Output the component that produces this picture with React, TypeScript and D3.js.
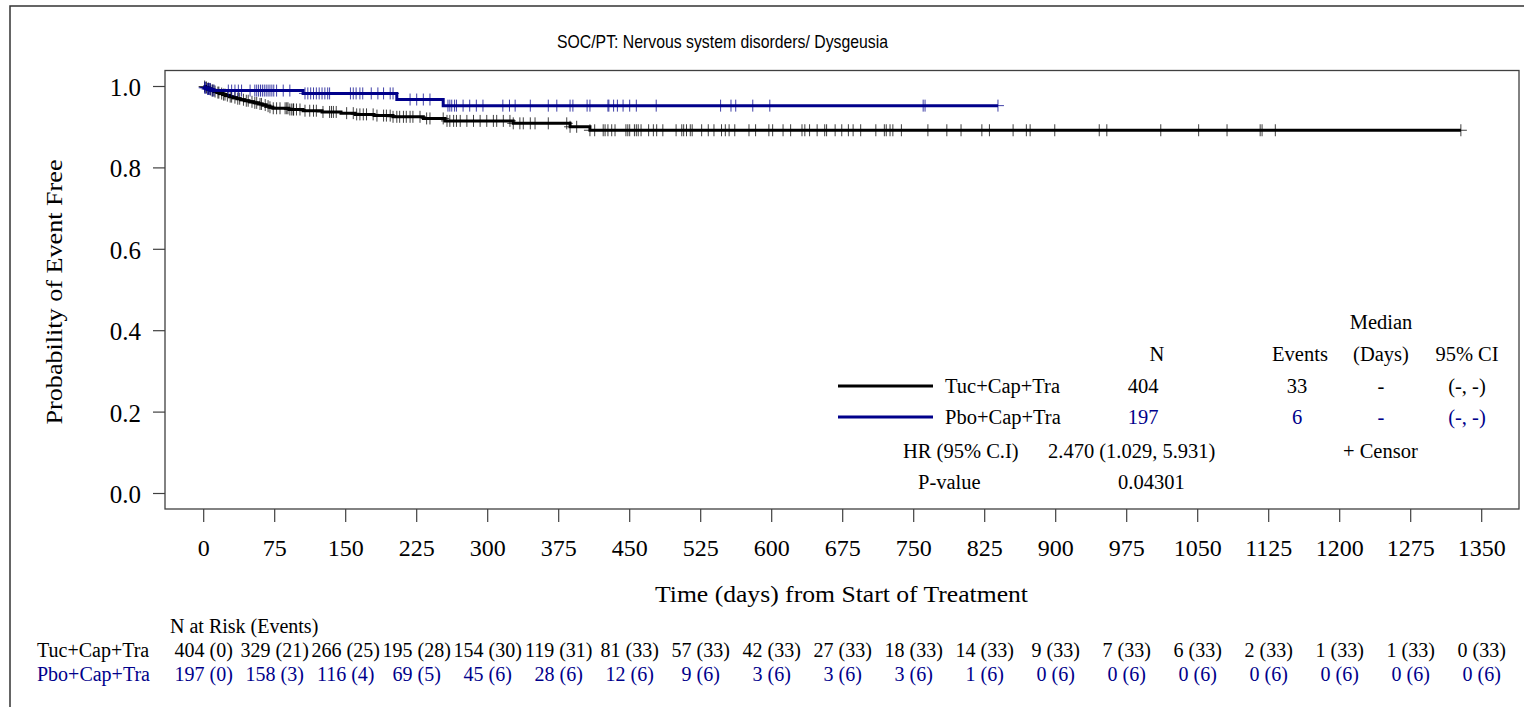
import React from "react";
import * as d3 from "d3";

// ---------- data ----------
const title = "SOC/PT: Nervous system disorders/ Dysgeusia";
const groups = ["Tuc+Cap+Tra", "Pbo+Cap+Tra"];
const groupColors = ["#000000", "#00008B"];

const xTicks = [0, 75, 150, 225, 300, 375, 450, 525, 600, 675, 750, 825, 900, 975, 1050, 1125, 1200, 1275, 1350];
const yTicks = [0.0, 0.2, 0.4, 0.6, 0.8, 1.0];

// Kaplan-Meier steps [day, survival after event]
const tucSteps: [number, number][] = [
  [0, 1.0], [2, 0.9975], [4, 0.995], [6, 0.9926], [8, 0.9901], [11, 0.9876], [14, 0.9851], [17, 0.9826],
  [20, 0.9801], [23, 0.9776], [27, 0.9751], [31, 0.9726], [35, 0.970], [39, 0.9675], [43, 0.965],
  [48, 0.9624], [53, 0.9598], [58, 0.9571], [62, 0.9544], [66, 0.9517], [70, 0.949], [73, 0.9465],
  [90, 0.9435], [105, 0.9405], [125, 0.9375], [145, 0.9345], [160, 0.9315], [180, 0.9285], [200, 0.9255],
  [232, 0.9215], [255, 0.9155], [327, 0.9095], [387, 0.901], [408, 0.8925],
];
const tucEnd = 1328;
const pboSteps: [number, number][] = [
  [0, 1.0], [1, 0.997], [3, 0.994], [8, 0.990], [105, 0.983], [204, 0.968], [253, 0.953],
];
const pboEnd = 839;

const tucCensor = [
  1, 3, 5, 7, 9, 10, 12, 15, 16, 19, 21, 22.5, 25, 28, 29.5, 33, 36, 38, 42, 45, 47, 51, 54, 56, 59.5, 61, 65, 68, 70,
  73.5, 77, 80.6, 86, 87.7, 89, 91, 93, 94.6, 95, 98, 101.7, 107, 112, 116, 119, 126, 133, 135, 137, 140,
  151, 158, 161.6, 165, 168.6, 172, 179, 183, 190, 193, 197, 200, 204, 207, 211, 214, 218, 221, 228.5,
  235.5, 239, 253, 257, 260, 264, 267, 271, 278, 285, 292, 299, 306, 309.5, 316.5, 323.5, 327, 334, 337.6,
  345, 350, 364, 383.5, 387, 394, 408, 413, 422, 424, 427, 431, 434.5, 446, 448, 450, 455, 457, 459, 462,
  470, 475, 478.5, 485, 499, 505, 507, 510, 514, 516, 526, 533, 539, 547, 551, 555, 561, 576, 583, 597,
  601, 612, 620, 632, 635, 640, 648, 656, 658, 667, 674, 681, 686, 694, 710, 719, 721, 725, 728, 737,
  765, 785, 800, 822, 830, 855, 869, 873, 899, 946, 954, 1011, 1051, 1081, 1116, 1118, 1132, 1328,
];
const pboCensor = [
  1, 2, 4, 5, 6, 7, 9, 11, 26, 29.5, 33, 36.6, 40, 49, 54, 56, 58, 60, 62, 64, 66, 68, 70, 72, 74, 77,
  84, 91, 107, 110, 113, 116, 119, 122, 125, 128, 131, 133, 155, 158, 161, 165, 168, 177, 184, 190, 197,
  200, 218, 225, 232, 239, 258, 260, 262, 265, 267, 274, 281, 288, 295, 316, 323, 329, 345, 364, 373,
  387, 390, 405, 408, 427, 428, 433, 437, 443, 450, 457, 478, 546, 557, 562, 580, 598, 760, 762, 839,
];

// legend table
const legendN = ["404", "197"];
const legendEvents = ["33", "6"];
const legendMedian = ["-", "-"];
const legendCI = ["(-, -)", "(-, -)"];
const hrText = "2.470 (1.029, 5.931)";
const pValue = "0.04301";

// number at risk (events)
const riskTuc = ["404 (0)", "329 (21)", "266 (25)", "195 (28)", "154 (30)", "119 (31)", "81 (33)", "57 (33)", "42 (33)", "27 (33)", "18 (33)", "14 (33)", "9 (33)", "7 (33)", "6 (33)", "2 (33)", "1 (33)", "1 (33)", "0 (33)"];
const riskPbo = ["197 (0)", "158 (3)", "116 (4)", "69 (5)", "45 (6)", "28 (6)", "12 (6)", "9 (6)", "3 (6)", "3 (6)", "3 (6)", "1 (6)", "0 (6)", "0 (6)", "0 (6)", "0 (6)", "0 (6)", "0 (6)", "0 (6)"];

// ---------- layout ----------
const W = 1524, H = 707;
const frame = { left: 165, top: 70.5, right: 1519, bottom: 509 };
const serif = "'Liberation Serif', 'Times New Roman', serif";
const sans = "'Liberation Sans', Arial, sans-serif";

const x = d3.scaleLinear().domain([0, 1350]).range([203.7, 1481.7]);
const y = d3.scaleLinear().domain([0, 1]).range([493.5, 86.5]);

function survAt(steps: [number, number][], t: number) {
  let s = 1;
  for (const [d, v] of steps) if (d <= t) s = v;
  return s;
}

const line = d3
  .line<[number, number]>()
  .x((d) => x(d[0]))
  .y((d) => y(d[1]))
  .curve(d3.curveStepAfter);

function Curve({ steps, end, censor, color, width }: any) {
  const pts: [number, number][] = [...steps, [end, steps[steps.length - 1][1]]];
  return (
    <g>
      <path d={line(pts) || ""} fill="none" stroke={color} strokeWidth={width} />
      {censor.map((c: number, i: number) => {
        const cx = x(c), cy = y(survAt(steps, c));
        return (
          <path
            key={i}
            d={`M${cx},${cy - 6}V${cy + 6}M${cx - 6},${cy}H${cx + 6}`}
            stroke={color}
            strokeWidth={1}
            strokeOpacity={0.75}
            fill="none"
          />
        );
      })}
    </g>
  );
}

export default function App() {
  const legRows = [393, 424];
  return (
    <svg width={W} height={H} style={{ position: "absolute", left: 0, top: 0, background: "#fff" }}>
      <rect x={0} y={0} width={W} height={H} fill="#fff" />
      {/* outer border */}
      <rect x={10} y={6} width={W + 20} height={H + 20} fill="none" stroke="#333" strokeWidth={1.5} />
      {/* title */}
      <text x={722.5} y={48} textAnchor="middle" fontFamily={sans} fontSize={19} textLength={331} lengthAdjust="spacingAndGlyphs">
        {title}
      </text>
      {/* frame */}
      <rect x={frame.left} y={frame.top} width={frame.right - frame.left} height={frame.bottom - frame.top} fill="none" stroke="#404040" strokeWidth={1.3} />
      {/* y ticks */}
      {yTicks.map((t) => (
        <g key={t}>
          <line x1={153} x2={frame.left} y1={y(t)} y2={y(t)} stroke="#404040" strokeWidth={1.2} />
          <text x={141} y={y(t) + 9.5} textAnchor="end" fontFamily={serif} fontSize={25}>
            {t.toFixed(1)}
          </text>
        </g>
      ))}
      {/* x ticks */}
      {xTicks.map((t) => (
        <g key={t}>
          <line x1={x(t)} x2={x(t)} y1={frame.bottom} y2={522} stroke="#404040" strokeWidth={1.2} />
          <text x={x(t)} y={556} textAnchor="middle" fontFamily={serif} fontSize={24}>
            {t}
          </text>
        </g>
      ))}
      {/* axis labels */}
      <text x={841.5} y={602} textAnchor="middle" fontFamily={serif} fontSize={24} textLength={373} lengthAdjust="spacingAndGlyphs">
        Time (days) from Start of Treatment
      </text>
      <text transform="translate(62,292) rotate(-90)" textAnchor="middle" fontFamily={serif} fontSize={24} textLength={265} lengthAdjust="spacingAndGlyphs">
        Probability of Event Free
      </text>

      {/* curves */}
      <Curve steps={tucSteps} end={tucEnd} censor={tucCensor} color={groupColors[0]} width={3} />
      <Curve steps={pboSteps} end={pboEnd} censor={pboCensor} color={groupColors[1]} width={3} />

      {/* legend */}
      <g fontFamily={serif} fontSize={20.5}>
        <text x={1381} y={329} textAnchor="middle">Median</text>
        <text x={1157} y={361} textAnchor="middle">N</text>
        <text x={1300} y={361} textAnchor="middle">Events</text>
        <text x={1381} y={361} textAnchor="middle">(Days)</text>
        <text x={1467} y={361} textAnchor="middle">95% CI</text>
        {groups.map((g, i) => (
          <g key={g} fill={groupColors[i]}>
            <line x1={838} x2={933} y1={legRows[i] - 7} y2={legRows[i] - 7} stroke={groupColors[i]} strokeWidth={3} />
            <text x={945} y={legRows[i]} fill="#000">{g}</text>
            <text x={1143} y={legRows[i]} textAnchor="middle">{legendN[i]}</text>
            <text x={1297} y={legRows[i]} textAnchor="middle">{legendEvents[i]}</text>
            <text x={1381} y={legRows[i]} textAnchor="middle">{legendMedian[i]}</text>
            <text x={1467} y={legRows[i]} textAnchor="middle">{legendCI[i]}</text>
          </g>
        ))}
        <text x={903} y={458}>HR (95% C.I)</text>
        <text x={1048} y={458}>{hrText}</text>
        <text x={1343} y={458}>+ Censor</text>
        <text x={918} y={489}>P-value</text>
        <text x={1118} y={489}>{pValue}</text>
      </g>

      {/* risk table */}
      <g fontFamily={serif} fontSize={20}>
        <text x={170} y={633}>N at Risk (Events)</text>
        <text x={37} y={657}>{groups[0]}</text>
        <text x={37} y={681} fill={groupColors[1]}>{groups[1]}</text>
        {xTicks.map((t, i) => (
          <g key={t}>
            <text x={x(t)} y={657} textAnchor="middle">{riskTuc[i]}</text>
            <text x={x(t)} y={681} textAnchor="middle" fill={groupColors[1]}>{riskPbo[i]}</text>
          </g>
        ))}
      </g>
    </svg>
  );
}
